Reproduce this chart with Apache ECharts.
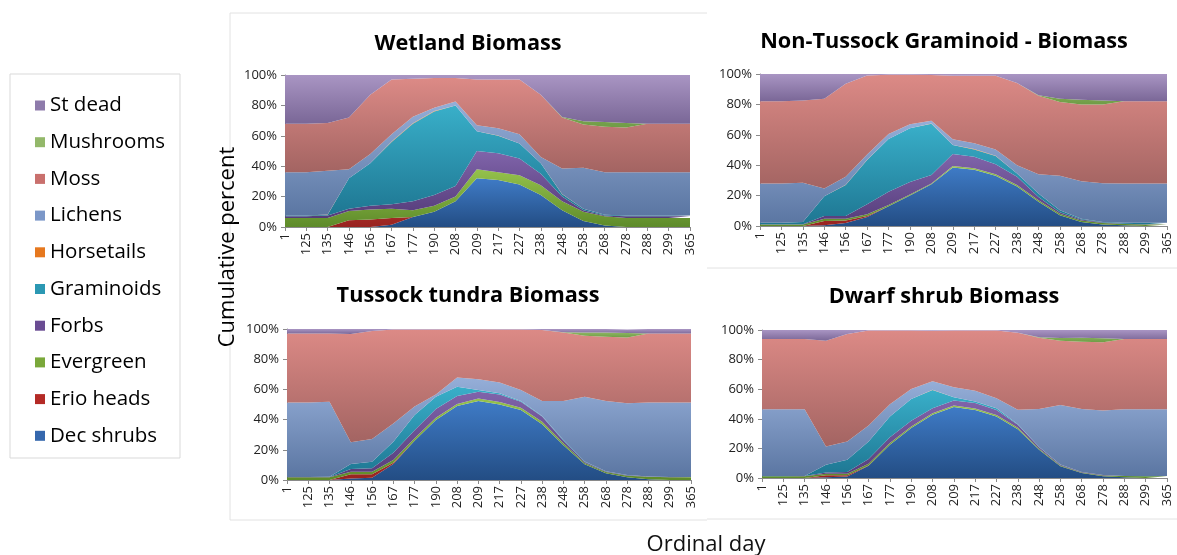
<!DOCTYPE html>
<html>
<head>
<meta charset="utf-8">
<script src="https://cdn.jsdelivr.net/npm/echarts@6/dist/echarts.min.js"></script>
<style>
  html, body { margin: 0; padding: 0; background: #fff; }
  #chart { width: 1177px; height: 555px; }
</style>
</head>
<body>
<div id="chart"></div>
<script>
// ---------- categories & labels ----------
const days = ['1','125','135','146','156','167','177','190','208','209','217','227','238','248','258','268','278','288','299','365'];
const seriesNames = ['Dec shrubs','Erio heads','Evergreen','Forbs','Graminoids','Horsetails','Lichens','Moss','Mushrooms','St dead'];
const legendOrder = ['St dead','Mushrooms','Moss','Lichens','Horsetails','Graminoids','Forbs','Evergreen','Erio heads','Dec shrubs'];
const panelTitles = ['Wetland Biomass','Non-Tussock Graminoid - Biomass','Tussock tundra Biomass','Dwarf shrub Biomass'];
const yTicks = [0, 20, 40, 60, 80, 100];

// ---------- Wetland (percent of total) ----------
const wetDec   = [0,0,0,0,0,1.5,6.5,10,17,32,31,28,21,11,4,1,0,0,0,0];
const wetErio  = [0,0,0,4.4,5,4.5,0.1,0,0,0,0,0,0,0,0,0,0,0,0,0];
const wetEver  = [6,6,6,6.1,6.5,6,4.4,4,3,6,5,6,6.5,6,6,6,6,6,6,6];
const wetForbs = [1,1,1.5,1.5,2.5,3,6,7,7,12,12.5,11,7.5,3,1,0.5,1,1,1,1];
const wetGram  = [0.5,0.5,0.5,20,28,41,51,55,53,13,11.5,10,7,1.5,1,0.5,0.5,0.5,0.5,0.5];
const wetHorse = [0,0,0.2,0,0,0.3,0.3,0.3,0,0,0.2,0,0,0.2,0,0,0,0,0,0];
const wetLich  = [28.5,28.5,28.8,6,6,4.7,4.2,2.2,2.5,4,4.8,6,4,16.8,27,28,28.5,28.5,28.5,28.5];
const wetMoss  = [32,32,31.5,34,39,36,25,19.5,15.5,30,32,36,41,33.5,28.5,30,29.5,32,32,32];
const wetMush  = [0,0,0,0,0,0,0,0,0,0,0,0,0,0.3,2,3,3,0,0,0];
const wetDead  = [32,32,31.5,28,13,3,2.5,2,2,3,3,3,13,27.7,30.5,31,31.5,32,32,32];

// ---------- Non-Tussock Graminoid ----------
const ntgDec   = [0,0,0,0.5,2,6,13,20,27.5,38.5,37,33,26,16,7,2.6,1,0.5,0,0];
const ntgErio  = [0,0,0,2.8,1.7,0.5,0,0,0,0,0,0,0,0,0,0,0,0,0,0];
const ntgEver  = [1,1,1,1.5,1.1,1.2,0.8,0.7,0.5,0.9,1,1,1,1,1,1.1,1,0.8,1,1];
const ntgForbs = [0.2,0.2,0.2,1.8,1.8,6.6,8.7,8.3,5.5,8,7.6,6.7,5.4,2,1,0.6,0.3,0.2,0.2,0.2];
const ntgGram  = [1,1,1.4,13,20.4,29.1,34.8,35.3,33.7,5.9,4.8,5.3,2.2,2.4,1.4,0.5,0.3,0.7,1,1];
const ntgHorse = [0,0,0,0,0.2,0.2,0,0,0.2,0,0.2,0.2,0,0,0,0,0,0,0,0];
const ntgLich  = [25.8,25.8,25.8,5.1,5.2,3.4,3.3,2.7,1.8,3.7,3.8,4.2,5.4,12.6,22.6,24.7,25.6,25.8,25.8,25.8];
const ntgMoss  = [54,54,54.2,59,61.2,52,38.9,32.5,30.1,41.9,44.5,48.5,54,51.7,48.5,50.5,51.8,54,54,54];
const ntgMush  = [0,0,0,0,0,0,0,0,0,0,0,0,0,0.3,2.2,3,2.6,0,0,0];
const ntgDead  = [18,18,17.4,16.3,6.4,1,0.5,0.5,0.7,1.1,1.1,1.1,6,14,16.3,17,17.4,18,18,18];

// ---------- Tussock tundra ----------
const tusDec   = [0,0,0,1,1.5,10.6,26,39.7,49,52.3,50,46.4,37,23,10.4,4.4,1.8,0.5,0,0];
const tusErio  = [0,0,0,2.8,2.3,0.9,0,0,0,0,0,0,0,0,0,0,0,0,0,0];
const tusEver  = [1.8,1.8,1.8,1.7,1.7,1.7,1.6,1.6,1.3,1.6,1.7,1.5,1.6,1.3,0.9,0.9,1,1.7,1.8,1.8];
const tusForbs = [0.2,0.2,0.2,1.8,2.2,4.8,5.4,5.7,5.3,4.6,5,4,3.4,1.7,0.7,0.4,0.4,0.2,0.2,0.2];
const tusGram  = [0,0,0.2,3.3,4.4,7.4,10,8.2,6.2,1.1,0.7,0.4,0.4,0.5,0.3,0.1,0.1,0,0,0];
const tusHorse = [0,0,0,0,0,0,0,0,0,0,0,0,0,0,0,0,0,0,0,0];
const tusLich  = [49.4,49.4,49.7,14.4,15.1,12.1,5.6,1.5,6,7.1,7.1,7.3,9.9,25.8,42.9,46.5,47.5,49,49.4,49.4];
const tusMoss  = [45.7,45.7,45.2,71.7,71.5,62.1,51,42.9,32,33.1,35.1,40,47.1,45.3,40.4,42.6,43.5,45.7,45.7,45.7];
const tusMush  = [0,0,0,0,0,0,0,0,0,0,0,0,0,0.3,2,2.7,3,0,0,0];
const tusDead  = [2.9,2.9,2.9,3.3,1.3,0.4,0.4,0.4,0.2,0.2,0.4,0.4,0.6,2.1,2.4,2.4,2.3,2.9,2.9,2.9];

// ---------- Dwarf shrub ----------
const dwfDec   = [0,0,0,0.5,1,8.3,22.5,33.7,42.7,47.9,46,41.6,33,19.1,7.9,3.4,1.1,0.5,0,0];
const dwfErio  = [0,0,0,1.3,0.8,0.2,0,0,0,0,0,0,0,0,0,0,0,0,0,0];
const dwfEver  = [1.1,1.1,1.1,1.1,1.1,1.2,1.1,1.1,1.1,1.1,1,0.9,0.9,0.7,0.6,0.4,0.6,0.8,1.1,1.1];
const dwfForbs = [0.1,0.1,0.2,0.9,1.1,3.1,4,3.9,3.4,3.4,3.6,3.5,2.1,0.9,0.5,0.2,0.3,0.1,0.1,0.1];
const dwfGram  = [0.1,0.1,0.1,5.2,8.4,11.9,14,14.6,12.2,2.2,1.1,1.2,0.4,0.3,0.2,0,0,0,0.1,0.1];
const dwfHorse = [0,0,0,0,0,0,0,0,0.2,0,0,0,0,0,0,0,0,0,0,0];
const dwfLich  = [45.2,45.2,45.1,12.3,12.3,10.8,8.3,6.9,5.8,6.7,7.2,6.7,9.7,25.7,40.2,42.7,43.6,45.1,45.2,45.2];
const dwfMoss  = [47.4,47.4,47.4,71.5,72.6,64.1,49.7,39.4,34,38.3,40.7,45.7,52.1,48.1,43.4,45.4,46.1,47.4,47.4,47.4];
const dwfMush  = [0,0,0,0,0,0,0,0,0,0,0,0,0,0.3,1.8,2.7,2.7,0,0,0];
const dwfDead  = [6.1,6.1,6.1,7.2,2.7,0.4,0.4,0.4,0.4,0.4,0.4,0.4,1.8,4.9,5.4,5.2,5.6,6.1,6.1,6.1];

const panelData = [
  [wetDec, wetErio, wetEver, wetForbs, wetGram, wetHorse, wetLich, wetMoss, wetMush, wetDead],
  [ntgDec, ntgErio, ntgEver, ntgForbs, ntgGram, ntgHorse, ntgLich, ntgMoss, ntgMush, ntgDead],
  [tusDec, tusErio, tusEver, tusForbs, tusGram, tusHorse, tusLich, tusMoss, tusMush, tusDead],
  [dwfDec, dwfErio, dwfEver, dwfForbs, dwfGram, dwfHorse, dwfLich, dwfMoss, dwfMush, dwfDead]
];

// ---------- styling ----------
const solid = {
  'Dec shrubs': '#3567ad', 'Erio heads': '#b42a26', 'Evergreen': '#7aa83a', 'Forbs': '#6a4c93',
  'Graminoids': '#2b98b3', 'Horsetails': '#e6781e', 'Lichens': '#7b97c8', 'Moss': '#c9706d',
  'Mushrooms': '#93b86a', 'St dead': '#8e7bab'
};
const grad = {
  'Dec shrubs': ['#3f7bc6', '#234d84'], 'Erio heads': ['#cc3c36', '#982320'],
  'Evergreen': ['#95c24c', '#5e8b2a'], 'Forbs': ['#8064aa', '#553c7a'],
  'Graminoids': ['#39afc9', '#1e7692'], 'Horsetails': ['#f28d2e', '#c86818'],
  'Lichens': ['#95aed8', '#5b76a2'], 'Moss': ['#dc8a86', '#a36462'],
  'Mushrooms': ['#a0c672', '#6f9c46'], 'St dead': ['#a995c3', '#7a6797']
};
const grids = [
  { left: 285, top: 75, width: 405, height: 152 },
  { left: 760, top: 74, width: 407, height: 152 },
  { left: 287, top: 329, width: 404, height: 151 },
  { left: 762, top: 330, width: 405, height: 148 }
];
const FONT = 'Open Sans';
const axisGrey = '#8a8a8a';

const xAxes = grids.map((g, i) => ({
  type: 'category', gridIndex: i, data: days, boundaryGap: false,
  axisLine: { show: true, lineStyle: { color: axisGrey, width: 1 } },
  axisTick: { show: true, alignWithLabel: true, length: 4, lineStyle: { color: axisGrey } },
  axisLabel: { interval: 0, rotate: 90, fontFamily: FONT, fontSize: 13, color: '#222', margin: 6 },
  splitLine: { show: false }
}));
const yAxes = grids.map((g, i) => ({
  type: 'value', gridIndex: i, min: yTicks[0], max: yTicks[yTicks.length - 1], interval: 20,
  axisLine: { show: true, lineStyle: { color: axisGrey, width: 1 } },
  axisTick: { show: true, length: 4, lineStyle: { color: axisGrey } },
  axisLabel: { formatter: '{value}%', fontFamily: FONT, fontSize: 13, color: '#222', margin: 8 },
  splitLine: { show: false }
}));

const series = [];
panelData.forEach((arrs, p) => {
  arrs.forEach((arr, s) => {
    const name = seriesNames[s];
    series.push({
      type: 'line', name: name, xAxisIndex: p, yAxisIndex: p, stack: 'panel' + p,
      data: arr, symbol: 'none', showSymbol: false, silent: true,
      lineStyle: { width: 0, opacity: 0 },
      itemStyle: { color: solid[name] },
      areaStyle: {
        opacity: 1,
        color: new echarts.graphic.LinearGradient(0, 0, 0, 1, [
          { offset: 0, color: grad[name][0] }, { offset: 1, color: grad[name][1] }
        ])
      },
      emphasis: { disabled: true },
      animation: false
    });
  });
});

const titlePos = [[468, 44], [944, 42], [468, 296], [944, 297]];
const graphics = [
  // chart frames
  { type: 'polyline', shape: { points: [[707, 13], [230, 13], [230, 520], [707, 520]] }, style: { stroke: '#e2e2e2', fill: null, lineWidth: 1 } },
  { type: 'line', shape: { x1: 707, y1: 268, x2: 1177, y2: 268 }, style: { stroke: '#e2e2e2', lineWidth: 1 } },
  { type: 'line', shape: { x1: 707, y1: 519, x2: 1177, y2: 519 }, style: { stroke: '#e2e2e2', lineWidth: 1 } },
  // legend box
  { type: 'rect', shape: { x: 10, y: 74, width: 170, height: 384 }, style: { stroke: '#d9d9d9', fill: null, lineWidth: 1 } },
  // axis names
  { type: 'text', x: 228, y: 247, rotation: Math.PI / 2,
    style: { text: 'Cumulative percent', font: '22px "Open Sans"', fill: '#000', textAlign: 'center', textVerticalAlign: 'middle' } },
  { type: 'text', x: 706, y: 545,
    style: { text: 'Ordinal day', font: '22px "Open Sans"', fill: '#111', textAlign: 'center', textVerticalAlign: 'middle' } }
];
panelTitles.forEach((t, i) => {
  graphics.push({ type: 'text', x: titlePos[i][0], y: titlePos[i][1],
    style: { text: t, font: 'bold 21.7px "Open Sans"', fill: '#000', textAlign: 'center', textVerticalAlign: 'middle' } });
});

const chart = echarts.init(document.getElementById('chart'), null, { renderer: 'canvas' });
chart.setOption({
  animation: false,
  backgroundColor: '#fff',
  grid: grids,
  xAxis: xAxes,
  yAxis: yAxes,
  legend: {
    orient: 'vertical', left: 30, top: 90,
    data: legendOrder.map(n => ({ name: n, itemStyle: { color: solid[n] } })),
    icon: 'rect', itemWidth: 10, itemHeight: 10, itemGap: 15.7,
    textStyle: { fontFamily: FONT, fontSize: 20.5, color: '#000', lineHeight: 20 },
    selectedMode: false
  },
  series: series,
  graphic: graphics
});
</script>
</body>
</html>
